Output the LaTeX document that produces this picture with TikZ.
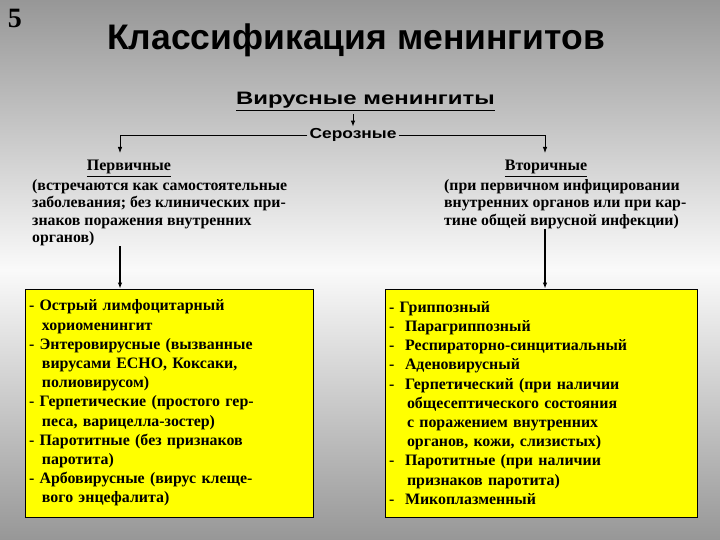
\documentclass[tikz,border=0pt]{standalone}
\usepackage{fontspec}
\setmainfont{Liberation Serif}
\newfontfamily\arialf{Liberation Sans}
\usepackage{tikz}
\usetikzlibrary{arrows.meta, positioning, calc}
\definecolor{mgYellow}{HTML}{FFFF00}
\definecolor{mgGray}{HTML}{979797}
\definecolor{mgLight}{HTML}{FAFAFA}

\begin{document}
\begin{tikzpicture}[x=1pt, y=-1pt,
    arr/.style={-{Latex[length=6pt,width=4.5pt]}, line width=1pt},
    head/.style={font=\bfseries\fontsize{16}{16}\selectfont, inner sep=1pt, anchor=base},
    desc/.style={font=\bfseries\fontsize{15.8}{17.5}\selectfont, align=left,
                 anchor=north west, inner sep=0pt},
    ybox/.style={draw=black, line width=0.8pt, fill=mgYellow, align=left,
                 text width=280pt, inner xsep=4pt, minimum height=228pt,
                 font=\bfseries\fontsize{15.9}{19.2}\selectfont}]
  % фон — серый сверху и снизу, светлый в середине
  \shade[top color=mgGray, bottom color=mgGray, middle color=mgLight]
    (0,0) rectangle (720,540);
  \useasboundingbox (0,0) rectangle (720,540);
  % заголовки
  \node[font=\bfseries\fontsize{28}{28}\selectfont, anchor=base] (num) at (15,28) {5};
  \node[font=\arialf\bfseries\fontsize{35.5}{35.5}\selectfont, anchor=base] (title)
    at (356,50) {Классификация менингитов};
  \node[font=\arialf\bfseries\fontsize{18}{18}\selectfont, anchor=base] (viral)
    at (365.5,105) {\underline{\scalebox{1.33}[1]{Вирусные менингиты}}};
  \node[font=\arialf\bfseries\fontsize{14.5}{14.5}\selectfont, inner sep=2pt, anchor=base]
    (serous) at (353,139) {\scalebox{1.2}[1]{Серозные}};
  \node[head] (prim) at (129,171) {\underline{Первичные}};
  \node[head] (sec) at (546,171) {\underline{Вторичные}};
  % пояснения
  \node[desc] (primdesc) at (32,179)
    {(встречаются как самостоятельные\\
     заболевания; без клинических при-\\
     знаков поражения внутренних\\
     органов)};
  \node[desc] (secdesc) at (444,179)
    {(при первичном инфицировании\\
     внутренних органов или при кар-\\
     тине общей вирусной инфекции)};
  % жёлтые блоки
  \node[ybox] (primbox) at (169,403)
    {- Острый лимфоцитарный\\
     \hspace*{13pt}хориоменингит\\
     - Энтеровирусные (вызванные\\
     \hspace*{13pt}вирусами ЕСНО, Коксаки,\\
     \hspace*{13pt}полиовирусом)\\
     - Герпетические (простого гер-\\
     \hspace*{13pt}песа, варицелла-зостер)\\
     - Паротитные (без признаков\\
     \hspace*{13pt}паротита)\\
     - Арбовирусные (вирус клеще-\\
     \hspace*{13pt}вого энцефалита)};
  \node[ybox, text width=304pt] (secbox) at (541,403)
    {- Гриппозный\\
     \makebox[16pt][l]{-}Парагриппозный\\
     \makebox[16pt][l]{-}Респираторно-синцитиальный\\
     \makebox[16pt][l]{-}Аденовирусный\\
     \makebox[16pt][l]{-}Герпетический (при наличии\\
     \hspace*{18pt}общесептического состояния\\
     \hspace*{18pt}с поражением внутренних\\
     \hspace*{18pt}органов, кожи, слизистых)\\
     \makebox[16pt][l]{-}Паротитные (при наличии\\
     \hspace*{18pt}признаков паротита)\\
     \makebox[16pt][l]{-}Микоплазменный};
  % стрелки
  \coordinate (pdrop) at (120,153);
  \coordinate (sdrop) at (545,153);
  \draw[arr] (serous.north |- viral.south) -- (serous.north);
  \draw[arr, line width=0.8pt] (serous.west) -| (pdrop);
  \draw[arr, line width=0.8pt] (serous.east) -| (sdrop);
  \draw[arr, line width=1.3pt] (primdesc.south -| pdrop) -- (primbox.north -| pdrop);
  \draw[arr, line width=1.3pt] (secdesc.south -| sdrop) -- (secbox.north -| sdrop);
\end{tikzpicture}
\end{document}
